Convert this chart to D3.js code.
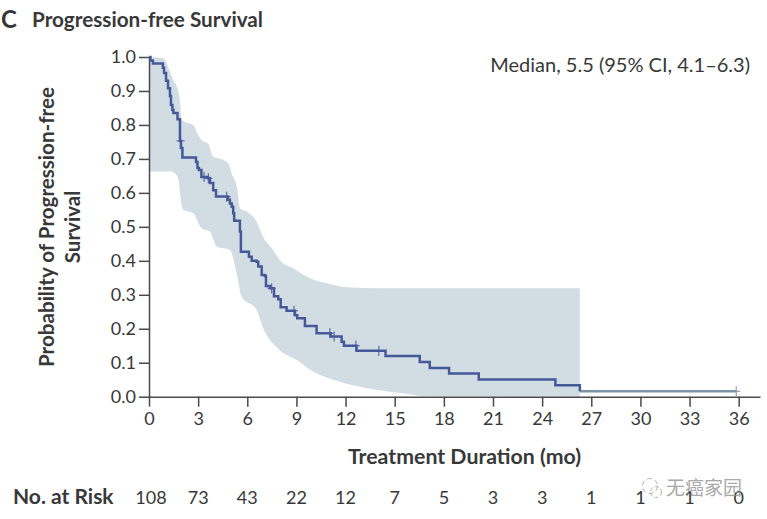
<!DOCTYPE html>
<html>
<head>
<meta charset="utf-8">
<script src="https://cdn.jsdelivr.net/npm/d3@7"></script>
<style>
body{margin:0;background:#fff}
svg{display:block}
text{font-family:Lato,"Open Sans",sans-serif;fill:#383838}
</style>
</head>
<body>
<div id="graph"></div>
<script>
// kaplan-meier steps
const kmTimes=[0,0.09,0.24,0.85,0.92,1.04,1.16,1.28,1.34,1.43,1.49,1.74,1.89,1.95,2.04,2.87,2.96,3.05,3.2,3.6,3.72,3.92,4.09,4.82,4.94,5.05,5.14,5.2,5.55,5.61,6.1,6.27,6.57,6.67,6.88,7.08,7.14,7.38,7.63,7.89,8.04,8.4,8.91,9.05,9.52,10.23,11.09,11.76,11.9,12.67,14.44,16.53,17.14,18.32,20.13,24.81,26.3,35.85]
const kmSurv=[1,0.99,0.981,0.968,0.953,0.93,0.908,0.885,0.859,0.844,0.835,0.817,0.753,0.732,0.704,0.691,0.673,0.667,0.647,0.643,0.629,0.608,0.589,0.58,0.569,0.559,0.54,0.518,0.486,0.427,0.412,0.4,0.397,0.383,0.358,0.355,0.326,0.319,0.296,0.287,0.263,0.253,0.24,0.231,0.208,0.187,0.177,0.162,0.15,0.135,0.12,0.102,0.0845,0.068,0.051,0.0335,0.016,0.016]
// censored patients (months)
const censorTimes=[1.93,3.36,3.62,4.74,7.49,8.85,11.04,11.3,12.63,14.03,35.85]
// confidence band
const upperTimes=[0,0.87,1.08,1.28,1.48,1.73,1.89,1.99,2.3,2.7,3.01,3.21,3.62,3.92,4.43,4.84,5.04,5.39,5.55,5.96,6.57,6.97,7.58,7.99,8.8,9.82,11.04,12.06,14.09,26.3]
const upperSurv=[1,0.996,0.981,0.957,0.932,0.908,0.873,0.815,0.807,0.8,0.77,0.756,0.744,0.706,0.699,0.687,0.658,0.613,0.555,0.545,0.515,0.47,0.432,0.402,0.378,0.349,0.332,0.322,0.319,0.319]
const lowerTimes=[0,1.38,1.79,1.89,2.09,2.7,3.21,3.72,4.13,4.94,5.35,5.66,6.57,6.97,7.99,9.01,10.02,11.65,13.28,15.5,16.84,26.3]
const lowerSurv=[0.663,0.663,0.643,0.599,0.55,0.54,0.496,0.486,0.442,0.432,0.363,0.294,0.255,0.202,0.137,0.108,0.074,0.044,0.025,0.01,0.002,0]

const xTicks=[0,3,6,9,12,15,18,21,24,27,30,33,36]
const yTicks=[0,0.1,0.2,0.3,0.4,0.5,0.6,0.7,0.8,0.9,1]
const atRisk=[108,73,43,22,12,7,5,3,3,1,1,1,0]

const width=767,height=519
const svg=d3.select("#graph").append("svg").attr("width",width).attr("height",height)

const x=d3.scaleLinear().domain([0,37.3]).range([149,760])
const y=d3.scaleLinear().domain([0,1]).range([396.7,57])

// band, each edge smoothed on its own so the corners at 0 and 26.3 stay sharp
const upper=upperTimes.map((t,i)=>[t,upperSurv[i]])
const lower=lowerTimes.map((t,i)=>[t,lowerSurv[i]]).reverse()
const edge=d3.line().curve(d3.curveMonotoneX).x(d=>x(d[0])).y(d=>y(d[1]))
svg.append("path")
 .attr("d",edge(upper)+"L"+edge(lower).slice(1)+"Z")
 .attr("fill","#d2dde3")

// axes
const xAxis=d3.axisBottom(x).tickValues(xTicks).tickFormat(d3.format("d")).tickSize(10).tickSizeOuter(0).tickPadding(6)
const yAxis=d3.axisLeft(y).tickValues(yTicks).tickFormat(d3.format(".1f")).tickSize(10).tickSizeOuter(0).tickPadding(3)
const gx=svg.append("g").attr("transform",`translate(0,${y(0)})`).call(xAxis)
const gy=svg.append("g").attr("transform",`translate(${x(0)},0)`).call(yAxis)
for(const g of [gx,gy]){
 g.selectAll(".domain,line").attr("stroke","#4a4a4a").attr("stroke-width",1.5)
 g.selectAll("text").style("font-size","18px").attr("font-family",null)
}

// survival curve
const steps=kmTimes.map((t,i)=>[t,kmSurv[i]])
const stepLine=d3.line().curve(d3.curveStepAfter).x(d=>x(d[0])).y(d=>y(d[1]))
const lastBand=kmTimes.indexOf(26.3)
svg.append("path")
 .attr("d",stepLine(steps.slice(lastBand)))
 .attr("fill","none").attr("stroke","#7c93a8").attr("stroke-width",2.4)
svg.append("path")
 .attr("d",stepLine(steps.slice(0,lastBand+1)))
 .attr("fill","none").attr("stroke","#45589a").attr("stroke-width",2.5)

// censor marks
const survAt=t=>kmSurv[d3.bisectRight(kmTimes,t)-1]
svg.selectAll(".censor").data(censorTimes).enter().append("path")
 .attr("class","censor")
 .attr("d",t=>`M${x(t)},${y(survAt(t))-5}V${y(survAt(t))+5}M${x(t)-4},${y(survAt(t))}H${x(t)+4}`)
 .attr("fill","none")
 .attr("stroke",t=>t>26.3?"#7c93a8":"#45589a")
 .attr("stroke-width",1)

// texts
svg.append("text").attr("x",1).attr("y",28).text("C")
 .style("font-size","24px").style("font-weight",700)
svg.append("text").attr("x",32).attr("y",27).text("Progression-free Survival")
 .style("font-size","20.7px").style("font-weight",700)
svg.append("text").attr("x",750).attr("y",72).attr("text-anchor","end")
 .text("Median, 5.5 (95% CI, 4.1–6.3)").style("font-size","20px")

const yLabel=svg.append("g").attr("transform","translate(54,227) rotate(-90)")
 .attr("text-anchor","middle").style("font-size","20.6px").style("font-weight",700)
yLabel.append("text").attr("y",0).text("Probability of Progression-free")
yLabel.append("text").attr("y",26).text("Survival")

svg.append("text").attr("x",464.5).attr("y",464).attr("text-anchor","middle")
 .text("Treatment Duration (mo)").style("font-size","21.3px").style("font-weight",700)

// number at risk
svg.append("text").attr("x",13).attr("y",504).text("No. at Risk")
 .style("font-size","21px").style("font-weight",700)
svg.selectAll(".risk").data(atRisk).enter().append("text")
 .attr("class","risk")
 .attr("x",(d,i)=>x(xTicks[i])+(i==0?2:0))
 .attr("y",504)
 .attr("text-anchor","middle")
 .style("font-size","18px")
 .text(d=>d)

// watermark
const mark=svg.append("g").attr("opacity",0.75)
mark.append("circle").attr("cx",650).attr("cy",486).attr("r",7.5)
 .attr("fill","none").attr("stroke","#9a9a9a").attr("stroke-width",1).attr("stroke-dasharray","5 3")
mark.append("circle").attr("cx",656).attr("cy",492).attr("r",5.5)
 .attr("fill","none").attr("stroke","#9a9a9a").attr("stroke-width",1).attr("stroke-dasharray","4 2")
mark.append("text").attr("x",666).attr("y",495).text("无癌家园")
 .style("font-family",'"Noto Sans CJK SC"').style("font-size","19px").style("fill","#8c8c8c")
</script>
</body>
</html>
